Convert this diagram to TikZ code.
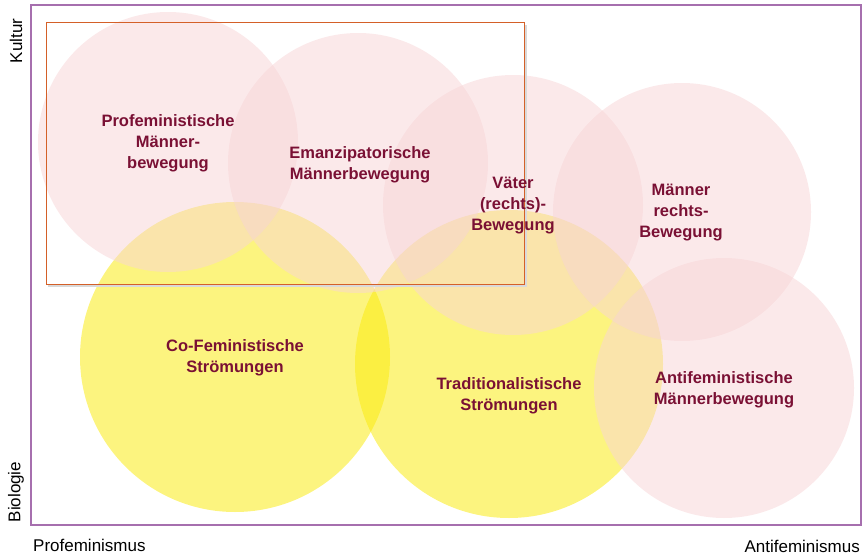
\documentclass[tikz,border=0pt]{standalone}
\usepackage{fontspec}
\setmainfont{Liberation Sans}
\begin{document}
\begin{tikzpicture}[x=1pt,y=-1pt,
  pinkc/.style={circle, inner sep=0pt, fill=pinkbase, fill opacity=0.5, draw=none},
  yellowc/.style={circle, inner sep=0pt, fill=yellowbase, fill opacity=0.52, draw=none},
  lbl/.style={align=center, text=lblred, font=\fontsize{16.5}{21}\selectfont\bfseries},
  axl/.style={text=black, font=\fontsize{17}{20}\selectfont, inner sep=0pt}]
\definecolor{pinkbase}{RGB}{247,212,214}
\definecolor{yellowbase}{RGB}{250,234,10}
\definecolor{lblred}{RGB}{122,16,52}
\definecolor{framepurple}{RGB}{166,111,174}
\definecolor{rectorange}{RGB}{212,96,40}
\useasboundingbox (0,0) rectangle (864,556);
% yellow circles
\node[yellowc, minimum size=310pt] (cco) at (235,357) {};
\node[yellowc, minimum size=308pt] (ctr) at (509,364) {};
% pink circles
\node[pinkc, minimum size=260pt] (cpro) at (168,142) {};
\node[pinkc, minimum size=260pt] (cema) at (358,163) {};
\node[pinkc, minimum size=260pt] (cvat) at (513,205) {};
\node[pinkc, minimum size=258pt] (cmr) at (682,212) {};
\node[pinkc, minimum size=260pt] (cant) at (724,388) {};
% frame
\draw[framepurple, line width=1.5pt] (31,5) rectangle (861,525);
% orange rectangle with shadow
\draw[black!15, line width=1.5pt] (48,286) -- (526,286) -- (526,25);
\draw[rectorange, line width=1pt] (46,23) rectangle (524,284);
% labels
\node[lbl] (tpro) at (168,143) {Profeministische\\Männer-\\bewegung};
\node[lbl] (tema) at (360,165) {Emanzipatorische\\Männerbewegung};
\node[lbl] (tvat) at (513,206) {Väter\\(rechts)-\\Bewegung};
\node[lbl] (tmr) at (681,213) {Männer\\rechts-\\Bewegung};
\node[lbl] (tco) at (235,358) {Co-Feministische\\Strömungen};
\node[lbl] (ttr) at (509,396) {Traditionalistische\\Strömungen};
\node[lbl] (tant) at (724,390) {Antifeministische\\Männerbewegung};
% axis labels
\node[axl, rotate=90] (kul) at (16,41) {Kultur};
\node[axl, rotate=90] (bio) at (16,492) {Biologie};
\node[axl, anchor=west] (pfm) at (33,545) {Profeminismus};
\node[axl, anchor=east] (afm) at (860,546) {Antifeminismus};
\end{tikzpicture}
\end{document}
